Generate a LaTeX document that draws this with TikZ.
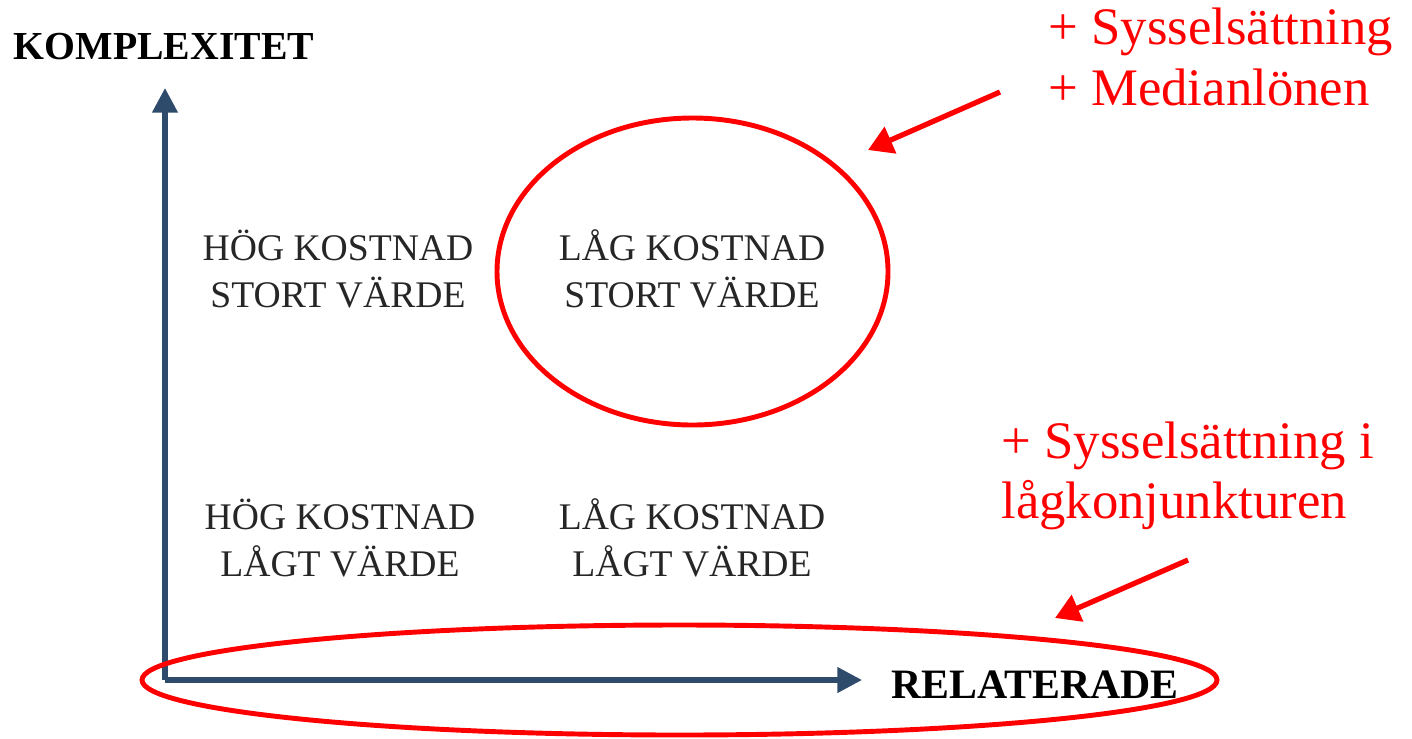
\documentclass[tikz,border=0pt]{standalone}
\usepackage{fontspec}
\setmainfont{Liberation Serif}
\usetikzlibrary{arrows.meta}
\definecolor{axisblue}{RGB}{47,75,107}
\tikzset{
  axis/.style={draw=axisblue, line width=1.5pt, -{Triangle[length=7pt,width=7pt]}},
  quad/.style={align=center, font=\fontsize{10.7}{13.4}\selectfont, text=black!85},
  axislabel/.style={font=\fontsize{11.3}{14}\selectfont\bfseries},
  note/.style={text=red, font=\fontsize{15}{16.3}\selectfont},
  ring/.style={draw=red, line width=1.4pt},
  pointer/.style={draw=red, line width=1.5pt, -{Triangle[length=7pt,width=8pt]}}
}
\begin{document}
\begin{tikzpicture}
  \useasboundingbox (0,0) rectangle (14.12,7.38);
  \coordinate (origin) at (1.65,0.58);
  \coordinate (ytip) at (1.65,6.50);
  \coordinate (xtip) at (8.62,0.58);
  \draw[axis] (origin) -- (ytip);
  \draw[axis] (origin) -- (xtip);
  \node[axislabel] (ylab) at (1.64,6.91) {KOMPLEXITET};
  \node[axislabel, font=\fontsize{11.9}{14}\selectfont\bfseries] (xlab) at (10.35,0.53) {RELATERADE};
  \node[quad] (hs) at (3.38,4.69) {HÖG KOSTNAD\\STORT VÄRDE};
  \node[quad] (ls) at (6.92,4.69) {LÅG KOSTNAD\\STORT VÄRDE};
  \node[quad] (hl) at (3.40,2.00) {HÖG KOSTNAD\\LÅGT VÄRDE};
  \node[quad] (ll) at (6.92,2.00) {LÅG KOSTNAD\\LÅGT VÄRDE};
  \draw[ring] (6.925,4.665) ellipse [x radius=1.955, y radius=1.535];
  \draw[ring] (6.795,0.58) ellipse [x radius=5.375, y radius=0.55];
  \node[note, align=left, anchor=west, font=\fontsize{15}{17.2}\selectfont] (top) at (10.36,6.81) {+ Sysselsättning\\+ Medianlönen};
  \node[note, align=left, anchor=west, font=\fontsize{15}{17.0}\selectfont] (low) at (9.89,2.62) {+ Sysselsättning i\\lågkonjunkturen};
  \coordinate (topfrom) at (10.00,6.46);
  \coordinate (topto) at (8.68,5.88);
  \coordinate (lowfrom) at (11.88,1.78);
  \coordinate (lowto) at (10.55,1.20);
  \draw[pointer] (topfrom) -- (topto);
  \draw[pointer] (lowfrom) -- (lowto);
\end{tikzpicture}
\end{document}
